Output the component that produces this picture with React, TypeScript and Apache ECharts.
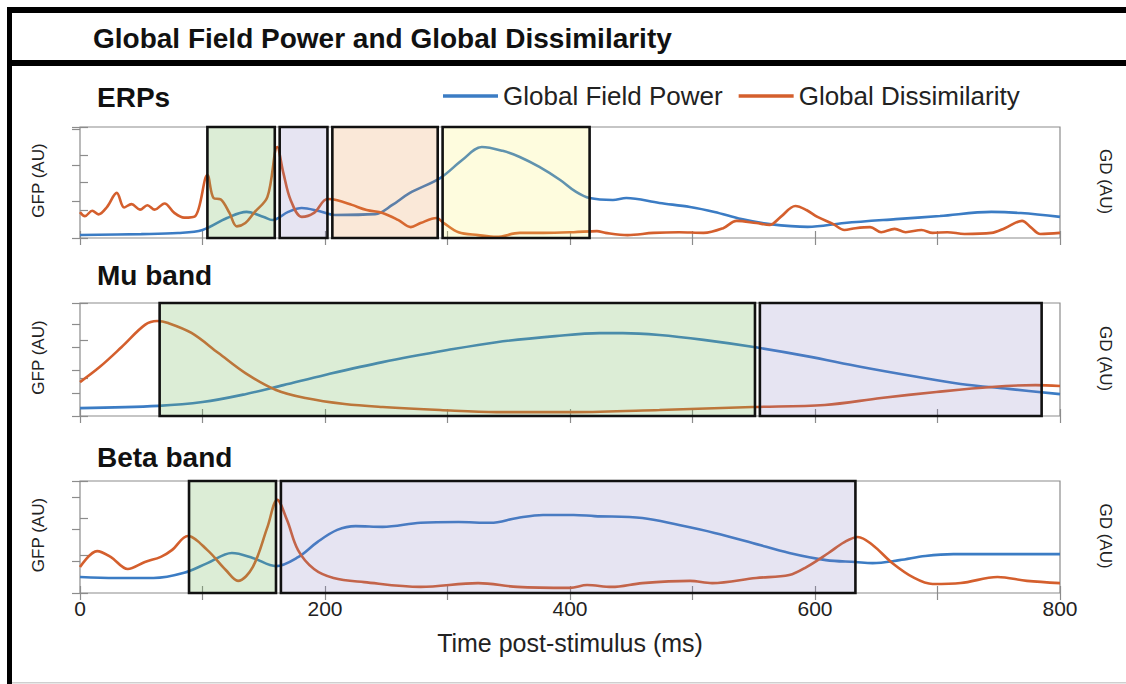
import React, { useEffect, useRef } from "react";
import * as echarts from "echarts";

const FONT = '"Liberation Sans", Arial, Helvetica, sans-serif';
const BLUE = "#3b7cc4";
const ORANGE = "#d45f2d";
const GREY = "#8c8c8c";
const BOX_FILLS = [
  "rgba(118,186,96,0.26)",
  "rgba(128,118,190,0.2)",
  "rgba(232,140,60,0.2)",
  "rgba(248,238,90,0.2)",
];

// ---- ERPs ----
const erpGfp: [number, number][] = [
  [0, 0.11], [50, 0.14], [80, 0.18], [100, 0.29], [120, 0.72], [136, 0.94], [150, 0.76],
  [157, 0.65], [170, 0.94], [181, 1.08], [195, 0.97], [208, 0.83], [241, 0.86], [255, 1.19],
  [269, 1.62], [294, 2.16], [312, 2.81], [328, 3.28], [345, 3.14], [359, 2.92], [375, 2.56],
  [392, 2.09], [405, 1.66], [416, 1.44], [435, 1.37], [446, 1.44], [473, 1.26], [498, 1.12],
  [518, 0.94], [540, 0.68], [563, 0.5], [594, 0.4], [624, 0.54], [666, 0.68], [702, 0.79],
  [744, 0.94], [768, 0.9], [800, 0.76],
];
const erpGd: [number, number][] = [
  [0, 0.71], [4, 0.6], [10, 0.75], [15, 0.65], [22, 0.85], [30, 1.24], [36, 0.84], [42, 0.93],
  [49, 0.78], [55, 0.9], [61, 0.78], [69, 0.95], [77, 0.69], [85, 0.56], [94, 0.6], [104, 1.73],
  [109, 1.1], [115, 1.06], [122, 0.69], [128, 0.32], [135, 0.41], [142, 0.69], [153, 1.13],
  [161, 2.5], [166, 1.79], [172, 1.04], [181, 0.58], [191, 0.69], [202, 1.07], [210, 1.04],
  [222, 0.91], [234, 0.77], [247, 0.69], [260, 0.49], [270, 0.3], [278, 0.41], [291, 0.55],
  [297, 0.41], [309, 0.16], [325, 0.08], [340, 0.03], [359, 0.14], [378, 0.14], [403, 0.16],
  [422, 0.19], [429, 0.14], [447, 0.08], [468, 0.14], [489, 0.16], [509, 0.14], [525, 0.27],
  [536, 0.47], [552, 0.41], [563, 0.36], [572, 0.58], [584, 0.88], [593, 0.77], [602, 0.58],
  [615, 0.38], [624, 0.22], [633, 0.27], [645, 0.3], [654, 0.16], [665, 0.25], [674, 0.16],
  [687, 0.22], [696, 0.14], [708, 0.16], [722, 0.11], [744, 0.14], [755, 0.27], [769, 0.47],
  [776, 0.3], [784, 0.11], [800, 0.14],
];
const erpBoxes: number[][] = [
  [104, 159, 0], [163, 202, 1], [206, 292, 2], [296, 416, 3],
];

// ---- Mu band ----
const muGfp: [number, number][] = [
  [0, 0.21], [64, 0.27], [100, 0.37], [135, 0.58], [166, 0.82], [200, 1.09], [247, 1.43],
  [300, 1.75], [340, 1.96], [388, 2.12], [424, 2.2], [443, 2.2], [473, 2.15], [509, 2.02],
  [550, 1.83], [593, 1.59], [638, 1.3], [683, 1.04], [719, 0.85], [758, 0.72], [800, 0.58],
];
const muGd: [number, number][] = [
  [0, 1.47], [16, 2.12], [34, 2.99], [53, 3.95], [63, 4.12], [72, 4.03], [91, 3.6], [113, 2.73],
  [135, 1.86], [160, 1.13], [184, 0.78], [216, 0.52], [247, 0.39], [294, 0.26], [340, 0.17],
  [403, 0.17], [473, 0.26], [549, 0.39], [608, 0.48], [654, 0.78], [699, 1.04], [744, 1.26],
  [780, 1.34], [800, 1.3],
];
const muBoxes: number[][] = [[65, 551, 0], [555, 785, 1]];

// ---- Beta band ----
const betaGfp: [number, number][] = [
  [0, 0.43], [29, 0.4], [60, 0.4], [85, 0.54], [104, 0.8], [124, 1.07], [141, 0.94], [160, 0.72],
  [178, 0.96], [194, 1.37], [210, 1.69], [225, 1.79], [247, 1.77], [278, 1.88], [309, 1.9],
  [335, 1.88], [357, 2.01], [378, 2.09], [403, 2.09], [420, 2.06], [459, 2.01], [489, 1.82],
  [518, 1.61], [549, 1.34], [579, 1.07], [609, 0.88], [633, 0.83], [647, 0.8], [669, 0.88],
  [690, 0.99], [713, 1.04], [758, 1.04], [800, 1.04],
];
const betaGd: [number, number][] = [
  [0, 0.81], [14, 1.31], [25, 1.13], [39, 0.75], [53, 0.97], [66, 1.13], [75, 1.34], [88, 1.78],
  [104, 1.34], [119, 0.72], [129, 0.38], [141, 0.81], [153, 2.06], [161, 2.91], [169, 2.28],
  [178, 1.34], [191, 0.75], [207, 0.47], [232, 0.34], [278, 0.19], [325, 0.31], [357, 0.19],
  [400, 0.16], [414, 0.25], [434, 0.19], [459, 0.31], [498, 0.38], [516, 0.31], [552, 0.47],
  [579, 0.56], [593, 0.81], [611, 1.25], [624, 1.59], [635, 1.75], [647, 1.5], [663, 0.94],
  [681, 0.47], [696, 0.28], [719, 0.31], [749, 0.5], [773, 0.38], [800, 0.31],
];
const betaBoxes: number[][] = [[89, 160, 0], [164, 633, 1]];

const panelTitles = ["ERPs", "Mu band", "Beta band"];
const gfpMax = [4, 3, 3];
const gdMax = [3.05, 4.9, 3.5];
const xTickValues = [0, 200, 400, 600, 800];

const CHART_TITLE = "Global Field Power and Global Dissimilarity";
const X_NAME = "Time post-stimulus (ms)";

// layout (pixels)
const layout = [
  { top: 127, height: 111, titleY: 97 },
  { top: 303, height: 113, titleY: 275 },
  { top: 481, height: 112, titleY: 457 },
];
const PLOT_LEFT = 80;
const PLOT_WIDTH = 980;

function buildOption() {
  const gfpData = [erpGfp, muGfp, betaGfp];
  const gdData = [erpGd, muGd, betaGd];
  const boxData = [erpBoxes, muBoxes, betaBoxes];

  const grid = layout.map((l) => ({
    left: PLOT_LEFT,
    top: l.top,
    width: PLOT_WIDTH,
    height: l.height,
    show: true,
    borderColor: GREY,
    borderWidth: 1.2,
    backgroundColor: "transparent",
    containLabel: false,
  }));

  const tickStyle = { inside: true, length: 7, lineStyle: { color: GREY, width: 1.2 } };

  const xAxis: any[] = [];
  for (let i = 0; i < 3; i++) {
    xAxis.push({
      type: "value",
      gridIndex: i,
      min: 0,
      max: 800,
      interval: 100,
      position: "bottom",
      axisLine: { show: false },
      axisTick: tickStyle,
      splitLine: { show: false },
      axisLabel: {
        show: i === 2,
        formatter: (v: number) => (xTickValues.indexOf(v) >= 0 ? String(v) : ""),
        fontSize: 21,
        color: "#222",
        fontFamily: FONT,
        margin: 5,
      },
      name: i === 2 ? X_NAME : "",
      nameLocation: "middle",
      nameGap: 37,
      nameTextStyle: { fontSize: 25, color: "#222", fontFamily: FONT },
    });
  }
  for (let i = 0; i < 3; i++) {
    xAxis.push({
      type: "value",
      gridIndex: i,
      min: 0,
      max: 800,
      interval: 100,
      position: "top",
      axisLine: { show: false },
      axisTick: tickStyle,
      splitLine: { show: false },
      axisLabel: { show: false },
    });
  }

  const yAxis: any[] = [];
  for (let i = 0; i < 3; i++) {
    yAxis.push({
      type: "value",
      gridIndex: i,
      min: 0,
      max: gfpMax[i],
      interval: 1,
      position: "left",
      axisLine: { show: false },
      axisTick: { ...tickStyle, length: 8 },
      axisLabel: { show: false },
      splitLine: { show: false },
    });
    yAxis.push({
      type: "value",
      gridIndex: i,
      min: 0,
      max: gdMax[i],
      interval: 1,
      position: "right",
      axisLine: { show: false },
      axisTick: { ...tickStyle, length: 8 },
      axisLabel: { show: false },
      splitLine: { show: false },
    });
  }

  const series: any[] = [];
  for (let i = 0; i < 3; i++) {
    series.push({
      type: "line",
      name: "Global Field Power",
      xAxisIndex: i,
      yAxisIndex: 2 * i,
      data: gfpData[i],
      smooth: 0.35,
      showSymbol: false,
      symbol: "none",
      lineStyle: { color: BLUE, width: 2.6 },
      itemStyle: { color: BLUE },
      z: 2,
    });
    series.push({
      type: "line",
      name: "Global Dissimilarity",
      xAxisIndex: i,
      yAxisIndex: 2 * i + 1,
      data: gdData[i],
      smooth: 0.35,
      showSymbol: false,
      symbol: "none",
      lineStyle: { color: ORANGE, width: 2.6 },
      itemStyle: { color: ORANGE },
      z: 2,
    });
    series.push({
      type: "custom",
      xAxisIndex: i,
      yAxisIndex: 2 * i,
      data: boxData[i],
      encode: { x: [0, 1], y: 2 },
      silent: true,
      z: 5,
      renderItem: (params: any, api: any) => {
        const cs = params.coordSys;
        const x0 = api.coord([api.value(0), 0])[0];
        const x1 = api.coord([api.value(1), 0])[0];
        return {
          type: "rect",
          shape: { x: x0, y: cs.y, width: x1 - x0, height: cs.height },
          style: { fill: BOX_FILLS[api.value(2)], stroke: "#111", lineWidth: 2.6 },
        };
      },
    });
  }

  const graphic: any[] = [
    // frame
    { type: "rect", shape: { x: 7, y: 7, width: 5, height: 690 }, style: { fill: "#000" } },
    { type: "rect", shape: { x: 7, y: 7, width: 1130, height: 6 }, style: { fill: "#000" } },
    { type: "rect", shape: { x: 7, y: 60, width: 1130, height: 6 }, style: { fill: "#000" } },
    { type: "rect", shape: { x: 12, y: 682, width: 1120, height: 1.5 }, style: { fill: "#cfcfcf" } },
    {
      type: "text",
      x: 93,
      y: 38,
      style: {
        text: CHART_TITLE,
        fontSize: 28,
        fontWeight: "bold",
        fontFamily: FONT,
        fill: "#111",
        align: "left",
        verticalAlign: "middle",
      },
    },
  ];
  layout.forEach((l, i) => {
    graphic.push({
      type: "text",
      x: 97,
      y: l.titleY,
      style: {
        text: panelTitles[i],
        fontSize: 28,
        fontWeight: "bold",
        fontFamily: FONT,
        fill: "#111",
        align: "left",
        verticalAlign: "middle",
      },
    });
    const cy = l.top + l.height / 2;
    graphic.push({
      type: "text",
      x: 38,
      y: cy - 2,
      rotation: Math.PI / 2,
      style: {
        text: "GFP (AU)",
        fontSize: 17,
        fontFamily: FONT,
        fill: "#222",
        align: "center",
        verticalAlign: "middle",
      },
    });
    graphic.push({
      type: "text",
      x: 1105,
      y: cy - 1,
      rotation: -Math.PI / 2,
      style: {
        text: "GD (AU)",
        fontSize: 17,
        fontFamily: FONT,
        fill: "#222",
        align: "center",
        verticalAlign: "middle",
      },
    });
  });

  return {
    animation: false,
    backgroundColor: "#fff",
    textStyle: { fontFamily: FONT },
    legend: {
      data: ["Global Field Power", "Global Dissimilarity"],
      left: 438,
      top: 78,
      icon: "rect",
      itemWidth: 55,
      itemHeight: 3.5,
      itemGap: 16,
      selectedMode: false,
      textStyle: { fontSize: 26, color: "#222", fontFamily: FONT },
    },
    grid,
    xAxis,
    yAxis,
    series,
    graphic,
  };
}

export default function App() {
  const ref = useRef<HTMLDivElement>(null);
  useEffect(() => {
    if (!ref.current) return;
    const chart = echarts.init(ref.current, undefined, { renderer: "svg" });
    chart.setOption(buildOption() as any);
    return () => chart.dispose();
  }, []);
  return (
    <div
      ref={ref}
      style={{ position: "absolute", left: 0, top: 0, width: 1126, height: 684, background: "#fff" }}
    />
  );
}
